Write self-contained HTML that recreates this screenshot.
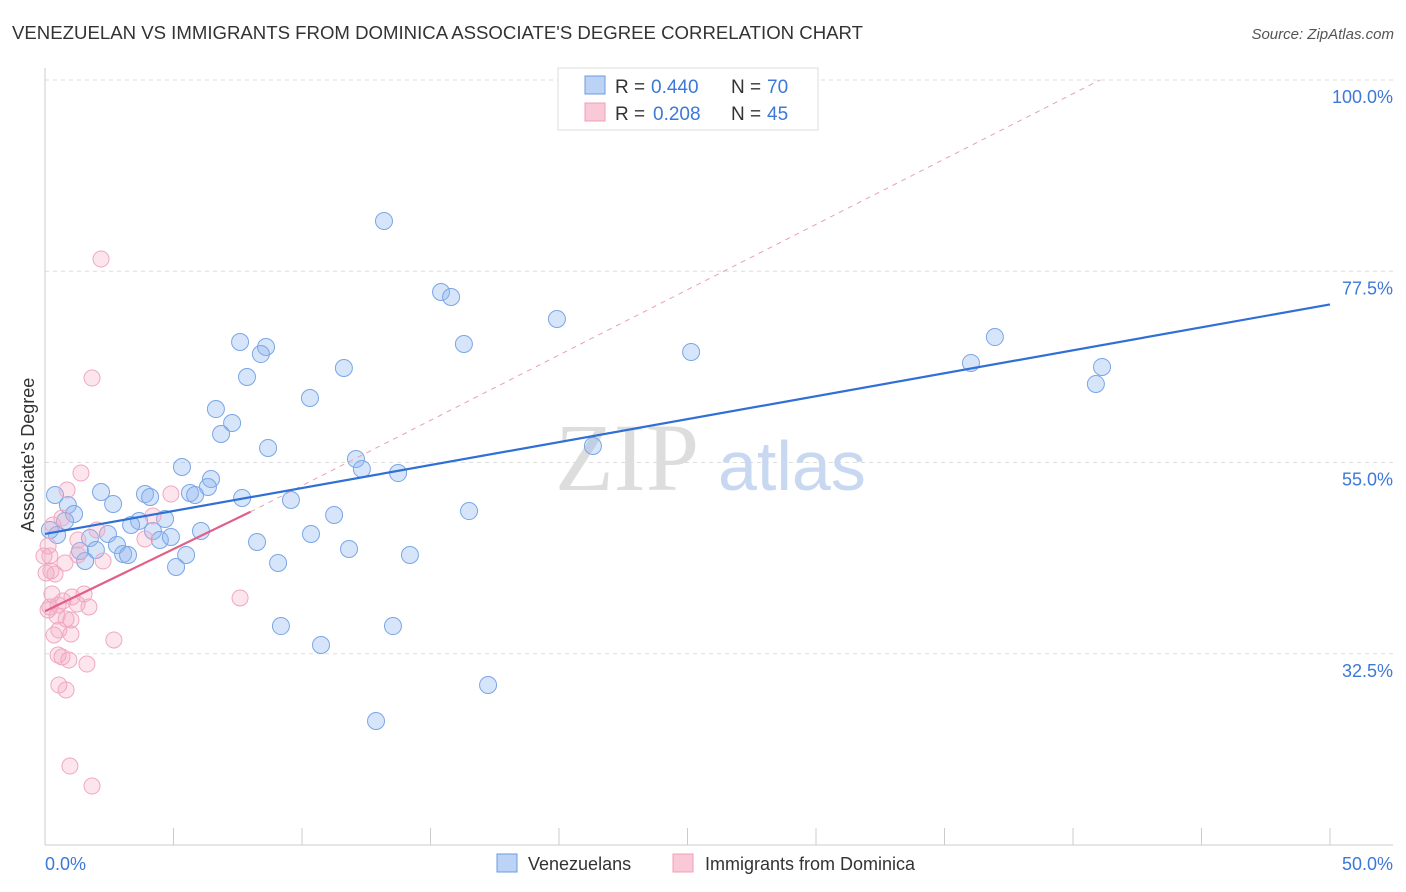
<!DOCTYPE html>
<html><head><meta charset="utf-8"><style>
body{margin:0;background:#fff;font-family:"Liberation Sans",sans-serif}
svg{display:block}
</style></head><body>
<svg width="1406" height="892">
<text x="12" y="39" font-size="18" fill="#333" textLength="851" lengthAdjust="spacingAndGlyphs">VENEZUELAN VS IMMIGRANTS FROM DOMINICA ASSOCIATE'S DEGREE CORRELATION CHART</text>
<text x="1394" y="39" font-size="15" fill="#555" font-style="italic" text-anchor="end">Source: ZipAtlas.com</text>
<g id="grid"></g>
<text x="555" y="490" font-size="96" fill="#ddd" font-family="Liberation Serif,serif">ZIP</text>
<text x="718" y="490" font-size="70" fill="#c8d8f0">atlas</text>
<line x1="45" y1="68" x2="45" y2="845" stroke="#ccc"/>
<line x1="45" y1="845" x2="1393" y2="845" stroke="#ccc"/>
<text x="34" y="455" font-size="18" fill="#333" transform="rotate(-90 34 455)" text-anchor="middle">Associate's Degree</text>
<text x="45" y="870" font-size="18" fill="#3c78d8">0.0%</text>
<text x="1393" y="870" font-size="18" fill="#3c78d8" text-anchor="end">50.0%</text>
<g id="marks"></g>
<g>
<rect x="558" y="68" width="260" height="62" fill="#fff" stroke="#ddd"/>
<rect x="585" y="76" width="20" height="18" fill="#bcd3f5" stroke="#6a9be0"/>
<rect x="585" y="103" width="20" height="18" fill="#f9c9d8" stroke="#f0a0b8"/>
<text x="615" y="93" font-size="19" fill="#333">R =</text>
<text x="651" y="93" font-size="19" fill="#3c78d8">0.440</text>
<text x="731" y="93" font-size="19" fill="#333">N =</text>
<text x="767" y="93" font-size="19" fill="#3c78d8">70</text>
<text x="615" y="120" font-size="19" fill="#333">R =</text>
<text x="653" y="120" font-size="19" fill="#3c78d8">0.208</text>
<text x="731" y="120" font-size="19" fill="#333">N =</text>
<text x="767" y="120" font-size="19" fill="#3c78d8">45</text>
</g>
<g>
<rect x="497" y="854" width="20" height="18" fill="#bcd3f5" stroke="#6a9be0"/>
<text x="528" y="870" font-size="18" fill="#333">Venezuelans</text>
<rect x="673" y="854" width="20" height="18" fill="#f9c9d8" stroke="#f0a0b8"/>
<text x="705" y="870" font-size="18" fill="#333">Immigrants from Dominica</text>
</g>
</svg>
<script>
const yTicks=[100,77.5,55,32.5];
const xTicks=[0,5,10,15,20,25,30,35,40,45,50];
const bluePx=[[384,221],[441,292],[451,297],[557,319],[240,342],[266,347],[261,354],[464,344],[691,352],[995,337],[971,363],[1102,367],[1096,384],[344,368],[247,377],[310,398],[216,409],[232,423],[221,434],[593,446],[268,448],[356,459],[362,469],[398,473],[182,467],[211,479],[208,487],[145,494],[150,497],[190,493],[195,495],[242,498],[101,492],[113,504],[68,505],[74,514],[65,521],[291,500],[334,515],[469,511],[139,521],[131,525],[165,519],[153,531],[108,534],[90,538],[160,540],[171,537],[201,531],[257,542],[311,534],[349,549],[410,555],[80,551],[96,550],[117,545],[123,554],[128,555],[186,555],[85,561],[176,567],[278,563],[281,626],[393,626],[321,645],[488,685],[376,721],[55,495],[57,535],[50,530]];
const pinkPx=[[101,259],[92,378],[81,473],[67,490],[171,494],[62,518],[97,530],[153,516],[145,539],[78,540],[48,546],[50,556],[103,561],[65,563],[51,571],[55,574],[240,598],[52,594],[72,597],[84,594],[63,601],[50,607],[77,604],[89,607],[57,616],[66,619],[71,620],[59,630],[54,635],[71,634],[114,640],[58,655],[62,657],[69,660],[87,664],[59,685],[66,690],[70,766],[92,786],[44,556],[48,610],[58,605],[46,573],[53,525],[78,555]];
const blueX=bluePx.map(p=>+((p[0]-45)/25.7).toFixed(2)), blueY=bluePx.map(p=>+(100-(p[1]-80)/8.5).toFixed(2));
const pinkX=pinkPx.map(p=>+((p[0]-45)/25.7).toFixed(2)), pinkY=pinkPx.map(p=>+(100-(p[1]-80)/8.5).toFixed(2));
const blueTrend=[[0,46.6],[50,73.6]];
const pinkTrend=[[0,37.5],[8,49.2]];
const pinkDash=[[8,49.2],[41.05,100]];
const X=v=>45+v*25.7, Y=v=>80+(100-v)*8.5;
const NS="http://www.w3.org/2000/svg";
const grid=document.getElementById('grid'), marks=document.getElementById('marks');
function mk(tag,attrs,parent){const e=document.createElementNS(NS,tag);for(const k in attrs)e.setAttribute(k,attrs[k]);parent.appendChild(e);return e;}
yTicks.forEach(t=>{
 const l=mk('line',{x1:45,x2:1393,y1:Y(t),y2:Y(t),stroke:'#ddd','stroke-dasharray':'4,4'},grid);
 
 
 const tx=mk('text',{x:1393,y:Y(t)+23,'font-size':18,fill:'#3c78d8','text-anchor':'end'},grid);
 tx.textContent=t.toFixed(1)+'%';
 
 
});
xTicks.forEach(t=>{
 const l=mk('line',{x1:X(t),x2:X(t),y1:828,y2:845,stroke:'#ccc'},grid);
 
 
});
blueX.forEach((x,i)=>{
 const c=mk('circle',{cx:X(x),cy:Y(blueY[i]),r:8.5,fill:'rgba(140,180,240,0.35)',stroke:'#7aa6e6','stroke-width':1},marks);
 
 
});
pinkX.forEach((x,i)=>{
 const c=mk('circle',{cx:X(x),cy:Y(pinkY[i]),r:8,fill:'rgba(245,170,195,0.3)',stroke:'#f0a8be','stroke-width':1},marks);
 
 
});
const d=mk('line',{x1:X(pinkDash[0][0]),y1:Y(pinkDash[0][1]),x2:X(pinkDash[1][0]),y2:Y(pinkDash[1][1]),stroke:'#e8a0b4','stroke-dasharray':'5,5'},marks);


const b=mk('line',{x1:X(blueTrend[0][0]),y1:Y(blueTrend[0][1]),x2:X(blueTrend[1][0]),y2:Y(blueTrend[1][1]),stroke:'#2f6fd6','stroke-width':2.2},marks);


const p=mk('line',{x1:X(pinkTrend[0][0]),y1:Y(pinkTrend[0][1]),x2:X(pinkTrend[1][0]),y2:Y(pinkTrend[1][1]),stroke:'#e0608a','stroke-width':2.2},marks);


</script>
</body></html>
